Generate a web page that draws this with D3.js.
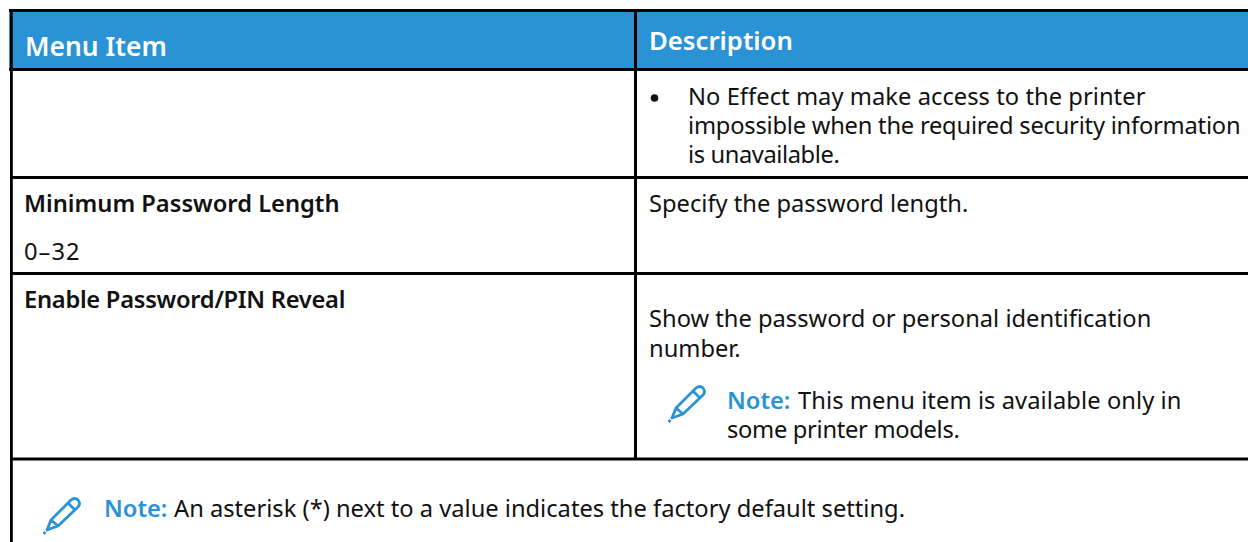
<!DOCTYPE html>
<html><head><meta charset="utf-8">
<script src="https://cdn.jsdelivr.net/npm/d3@7"></script>
<style>html,body{margin:0;padding:0;background:#fff;overflow:hidden}svg{display:block}text{font-family:"Noto Sans",sans-serif;white-space:pre}</style>
</head><body><svg id="c" width="1248" height="542"></svg>
<script>
// content
const headers = ["Menu Item","Description"];
const boldLines = ["Minimum Password Length","Enable Password/PIN Reveal"];
const plainLines = [
 "No Effect may make access to the printer",
 "impossible when the required security information",
 "is unavailable.",
 "0–32",
 "Specify the password length.",
 "Show the password or personal identification",
 "number.",
 "This menu item is available only in",
 "some printer models.",
 "An asterisk (*) next to a value indicates the factory default setting."
];
const noteLabels = ["Note:","Note:"];
// layout
const headerX=[25,649], headerY=[56,49.5], headerSize=[26.4,25.7];
const boldX=[24,24], boldY=[212,308], boldTrack=[0,-0.27];
const plainX=[688,688,688,24,649,649,649,798,727,174];
const plainY=[105,134,163,260,212,327,357,409,438,517];
const plainTrack=[0.05,-0.22,-0.4,1,0,0,0,0.08,-0.3,0];
const noteX=[727,104], noteY=[409,517];
const iconX=[668,43], iconY=[385,497];
const ruleY=[10.5,69.5,177.5,273.5,459];
const blue="#2a93d6", ink="#111", fs=23.7;

const svg=d3.select("#c");
svg.append("rect").attr("x",9).attr("y",11).attr("width",1239).attr("height",58).attr("fill",blue);
svg.selectAll("line.h").data(ruleY).join("line").attr("class","h")
 .attr("x1",(d,i)=>i<2?9:10).attr("x2",1248).attr("y1",d=>d).attr("y2",d=>d).attr("stroke","#000").attr("stroke-width",3);
svg.append("line").attr("x1",11.4).attr("x2",11.4).attr("y1",9).attr("y2",542).attr("stroke","#000").attr("stroke-width",2.8);
svg.append("line").attr("x1",635.5).attr("x2",635.5).attr("y1",9).attr("y2",460).attr("stroke","#000").attr("stroke-width",3);
svg.selectAll("text.hd").data(headers).join("text").attr("class","hd")
 .attr("x",(d,i)=>headerX[i]).attr("y",(d,i)=>headerY[i]).attr("fill","#fff")
 .attr("font-size",(d,i)=>headerSize[i]).attr("font-weight",600).text(d=>d);
svg.selectAll("text.bd").data(boldLines).join("text").attr("class","bd")
 .attr("x",(d,i)=>boldX[i]).attr("y",(d,i)=>boldY[i]).attr("fill",ink)
 .attr("letter-spacing",(d,i)=>boldTrack[i])
 .attr("font-size",fs).attr("font-weight",600).text(d=>d);
svg.selectAll("text.pl").data(plainLines).join("text").attr("class","pl")
 .attr("x",(d,i)=>plainX[i]).attr("y",(d,i)=>plainY[i]).attr("fill",ink)
 .attr("letter-spacing",(d,i)=>plainTrack[i])
 .attr("font-size",fs).text(d=>d);
svg.append("circle").attr("cx",654.5).attr("cy",98).attr("r",3.8).attr("fill",ink);
svg.selectAll("text.nt").data(noteLabels).join("text").attr("class","nt")
 .attr("x",(d,i)=>noteX[i]).attr("y",(d,i)=>noteY[i]).attr("fill",blue)
 .attr("font-size",fs).attr("font-weight",600).text(d=>d);
svg.selectAll("path.ic").data(iconX).join("path").attr("class","ic")
 .attr("transform",(d,i)=>`translate(${d},${iconY[i]})`)
 .attr("fill","none").attr("stroke",blue).attr("stroke-width",2.8).attr("stroke-linejoin","round")
 .attr("d","M4,33 L8,23 L28,3 Q32,0 35,3 Q38,7 35,10 L15,29 Z M8,23 L15,29 M25,6 L32,13 M0.5,37 L2.5,35");
</script></body></html>
